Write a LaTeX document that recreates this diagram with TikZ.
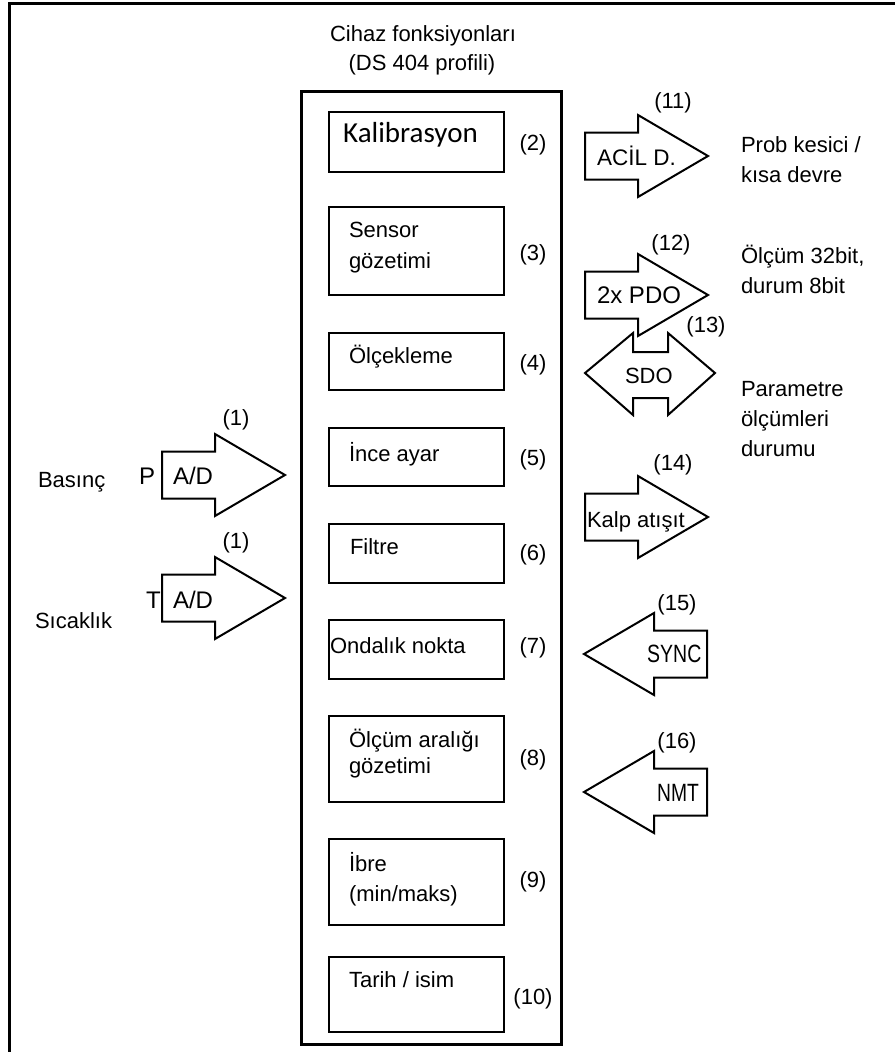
\documentclass[tikz,border=0pt]{standalone}
\usepackage{fontspec}
\setmainfont{Liberation Sans}
\newfontfamily\calib{Carlito}
\usepackage{graphicx}
\begin{document}
\begin{tikzpicture}[x=1pt,y=-1pt,line join=miter,
  txt/.style={font=\fontsize{22}{26}\selectfont, inner sep=0pt, outer sep=0pt},
  big/.style={font=\fontsize{24}{28}\selectfont, inner sep=0pt, outer sep=0pt},
  fbox/.style={draw, line width=2.4pt, anchor=north west, inner sep=0pt, minimum width=175pt},
  arr/.style={draw, line width=2pt, fill=white},
  blockR/.pic={\path[arr] (0,-23.5) -- (53,-23.5) -- (53,-41) -- (123,0) -- (53,41) -- (53,23.5) -- (0,23.5) -- cycle;}
]
\useasboundingbox (0,0) rectangle (895,1052);
% outer frame (only top and left visible)
\draw[line width=2.6pt] (9.5,1052) -- (9.5,3.5) -- (895,3.5);

% title
\node[txt, anchor=base] (title1) at (423,41) {Cihaz fonksiyonları};
\node[txt, anchor=base] (title2) at (422,70) {(DS 404 profili)};

% main box
\node[draw, line width=2.6pt, anchor=north west, inner sep=0pt, minimum width=260pt, minimum height=953pt] (main) at (300,90) {};

% inner boxes
\node[fbox, minimum height=60pt] (b2) at (328,111) {};
\node[fbox, minimum height=88pt] (b3) at (328,206) {};
\node[fbox, minimum height=57pt] (b4) at (328,332) {};
\node[fbox, minimum height=58pt] (b5) at (328,427) {};
\node[fbox, minimum height=59pt] (b6) at (328,523) {};
\node[fbox, minimum height=59pt] (b7) at (328,619) {};
\node[fbox, minimum height=86pt] (b8) at (328,715) {};
\node[fbox, minimum height=86pt] (b9) at (328,838) {};
\node[fbox, minimum height=75pt] (b10) at (328,956) {};

% box texts
\node[font=\calib\fontsize{29}{34}\selectfont, inner sep=0pt, anchor=base west] (l2) at (343,142) {Kalibrasyon};
\node[txt, anchor=base west] (l3a) at (349,237) {Sensor};
\node[txt, anchor=base west] (l3b) at (349,268) {gözetimi};
\node[txt, anchor=base west] (l4) at (349,363) {Ölçekleme};
\node[txt, anchor=base west] (l5) at (349,461) {İnce ayar};
\node[txt, anchor=base west] (l6) at (350,554) {Filtre};
\node[txt, anchor=base west] (l7) at (330,653) {Ondalık nokta};
\node[txt, anchor=base west] (l8a) at (349,747) {Ölçüm aralığı};
\node[txt, anchor=base west] (l8b) at (349,773) {gözetimi};
\node[txt, anchor=base west] (l9a) at (349,871) {İbre};
\node[txt, anchor=base west] (l9b) at (349,901) {(min/maks)};
\node[txt, anchor=base west] (l10) at (349,987) {Tarih / isim};

% numbers
\node[txt, anchor=base] (n2) at (533,150) {(2)};
\node[txt, anchor=base] (n3) at (533,260) {(3)};
\node[txt, anchor=base] (n4) at (533,370) {(4)};
\node[txt, anchor=base] (n5) at (533,465) {(5)};
\node[txt, anchor=base] (n6) at (533,560) {(6)};
\node[txt, anchor=base] (n7) at (533,653) {(7)};
\node[txt, anchor=base] (n8) at (533,765) {(8)};
\node[txt, anchor=base] (n9) at (533,887) {(9)};
\node[txt, anchor=base] (n10) at (533,1004) {(10)};

% left input arrows
\pic at (162,475) {blockR};
\pic at (162,598) {blockR};
\node[txt, anchor=base] (n1a) at (236,425) {(1)};
\node[txt, anchor=base] (n1b) at (236,548) {(1)};
\node[big, anchor=base west] (adp) at (173,484) {A/D};
\node[big, anchor=base west] (adt) at (173,608) {A/D};
\node[big, anchor=base west] (pp) at (139,484) {P};
\node[big, anchor=base west] (tt) at (146,608) {T};
\node[txt, anchor=base west] (basinc) at (38,487) {Basınç};
\node[txt, anchor=base west] (sicak) at (35,628) {Sıcaklık};

% right arrows
\pic at (585,156) {blockR};
\pic at (585,295) {blockR};
\path[arr] (585,373) -- (633,333) -- (633,352) -- (668,352) -- (668,333) -- (715,373)
  -- (668,415) -- (668,398) -- (633,398) -- (633,415) -- cycle;
\pic at (585,517) {blockR};
\pic[xscale=-1] at (707,654) {blockR};
\pic[xscale=-1] at (707,792) {blockR};

\node[txt, anchor=base] (n11) at (673,108) {(11)};
\node[txt, anchor=base] (n12) at (671,250) {(12)};
\node[txt, anchor=base] (n13) at (706,332) {(13)};
\node[txt, anchor=base] (n14) at (673,470) {(14)};
\node[txt, anchor=base] (n15) at (677,610) {(15)};
\node[txt, anchor=base] (n16) at (677,748) {(16)};

\node[font=\fontsize{22.5}{26}\selectfont, inner sep=0pt, anchor=base west] (acil) at (597,165) {ACİL D.};
\node[big, anchor=base west] (pdo) at (597,303) {2x PDO};
\node[txt, anchor=base west] (sdo) at (625,383) {SDO};
\node[txt, anchor=base west] (kalp) at (587,527) {Kalp atışıt};
\node[font=\fontsize{25}{28}\selectfont, inner sep=0pt, anchor=base west] (sync) at (647,662) {\scalebox{0.78}[1]{SYNC}};
\node[font=\fontsize{25}{28}\selectfont, inner sep=0pt, anchor=base west] (nmt) at (657,801) {\scalebox{0.77}[1]{NMT}};

% right descriptions
\node[txt, anchor=base west] (r1a) at (741,152) {Prob kesici /};
\node[txt, anchor=base west] (r1b) at (741,182) {kısa devre};
\node[txt, anchor=base west] (r2a) at (741,263) {Ölçüm 32bit,};
\node[txt, anchor=base west] (r2b) at (741,293) {durum 8bit};
\node[txt, anchor=base west] (r3a) at (741,396) {Parametre};
\node[txt, anchor=base west] (r3b) at (741,426) {ölçümleri};
\node[txt, anchor=base west] (r3c) at (741,456) {durumu};
\end{tikzpicture}
\end{document}
